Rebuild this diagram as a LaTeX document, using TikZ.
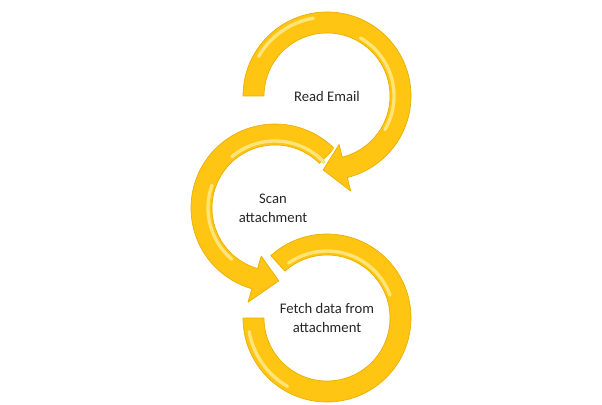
\documentclass[tikz,border=0pt]{standalone}
\usepackage{fontspec}
\setmainfont{Carlito}
\definecolor{ringgold}{HTML}{FFC512}
\definecolor{ringedge}{HTML}{E8AE00}
\definecolor{ringlight}{HTML}{FFE47A}
\begin{document}
\begin{tikzpicture}[x=0.75pt,y=0.75pt,
  ring/.style={fill=ringgold, draw=ringedge, line width=0.5pt, line join=round,
    preaction={draw=white, line width=3.5pt}},
  shine/.style={draw=ringlight, line width=2.5pt, line cap=round},
  txt/.style={font=\fontsize{11}{14}\selectfont, align=center, text=black!85}]
\useasboundingbox (0,0) rectangle (602,404);
\coordinate (c1) at (327,308);
\coordinate (c2) at (275,196);
\coordinate (c3) at (327,86);

% fetch data ring
\filldraw[ring] ([shift={(132:63)}]c3) -- ([shift={(132:84)}]c3) arc[start angle=132,end angle=-180,radius=84] -- ([shift={(180:63)}]c3) arc[start angle=-180,end angle=132,radius=63] -- cycle;
\draw[shine] ([shift={(125:67)}]c3) arc[start angle=125,end angle=20,radius=67];
\draw[shine] ([shift={(-120:79)}]c3) arc[start angle=-120,end angle=-170,radius=79];

% scan ring
\filldraw[ring] ([shift={(45:63)}]c2) -- ([shift={(45:84)}]c2) arc[start angle=45,end angle=254,radius=84] -- ([shift={(254:98)}]c2) -- ([shift={(273:73)}]c2) -- ([shift={(254:50)}]c2) -- ([shift={(254:63)}]c2) arc[start angle=254,end angle=45,radius=63] -- cycle;
\draw[shine] ([shift={(40:67)}]c2) arc[start angle=40,end angle=130,radius=67];
\draw[shine] ([shift={(160:67)}]c2) arc[start angle=160,end angle=230,radius=67];

% read email ring
\filldraw[ring] ([shift={(180:84)}]c1) arc[start angle=180,end angle=-76,radius=84] -- ([shift={(-76:98)}]c1) -- ([shift={(-93:74)}]c1) -- ([shift={(-76:50)}]c1) -- ([shift={(-76:63)}]c1) arc[start angle=-76,end angle=180,radius=63] -- cycle;
\draw[shine] ([shift={(150:79)}]c1) arc[start angle=150,end angle=100,radius=79];
\draw[shine] ([shift={(60:67)}]c1) arc[start angle=60,end angle=-30,radius=67];

\node[txt] (read) at (c1) {Read Email};
\node[txt] (scan) at ([shift={(-2,0)}]c2) {Scan\\attachment};
\node[txt] (fetch) at (c3) {Fetch data from\\attachment};
\end{tikzpicture}
\end{document}
